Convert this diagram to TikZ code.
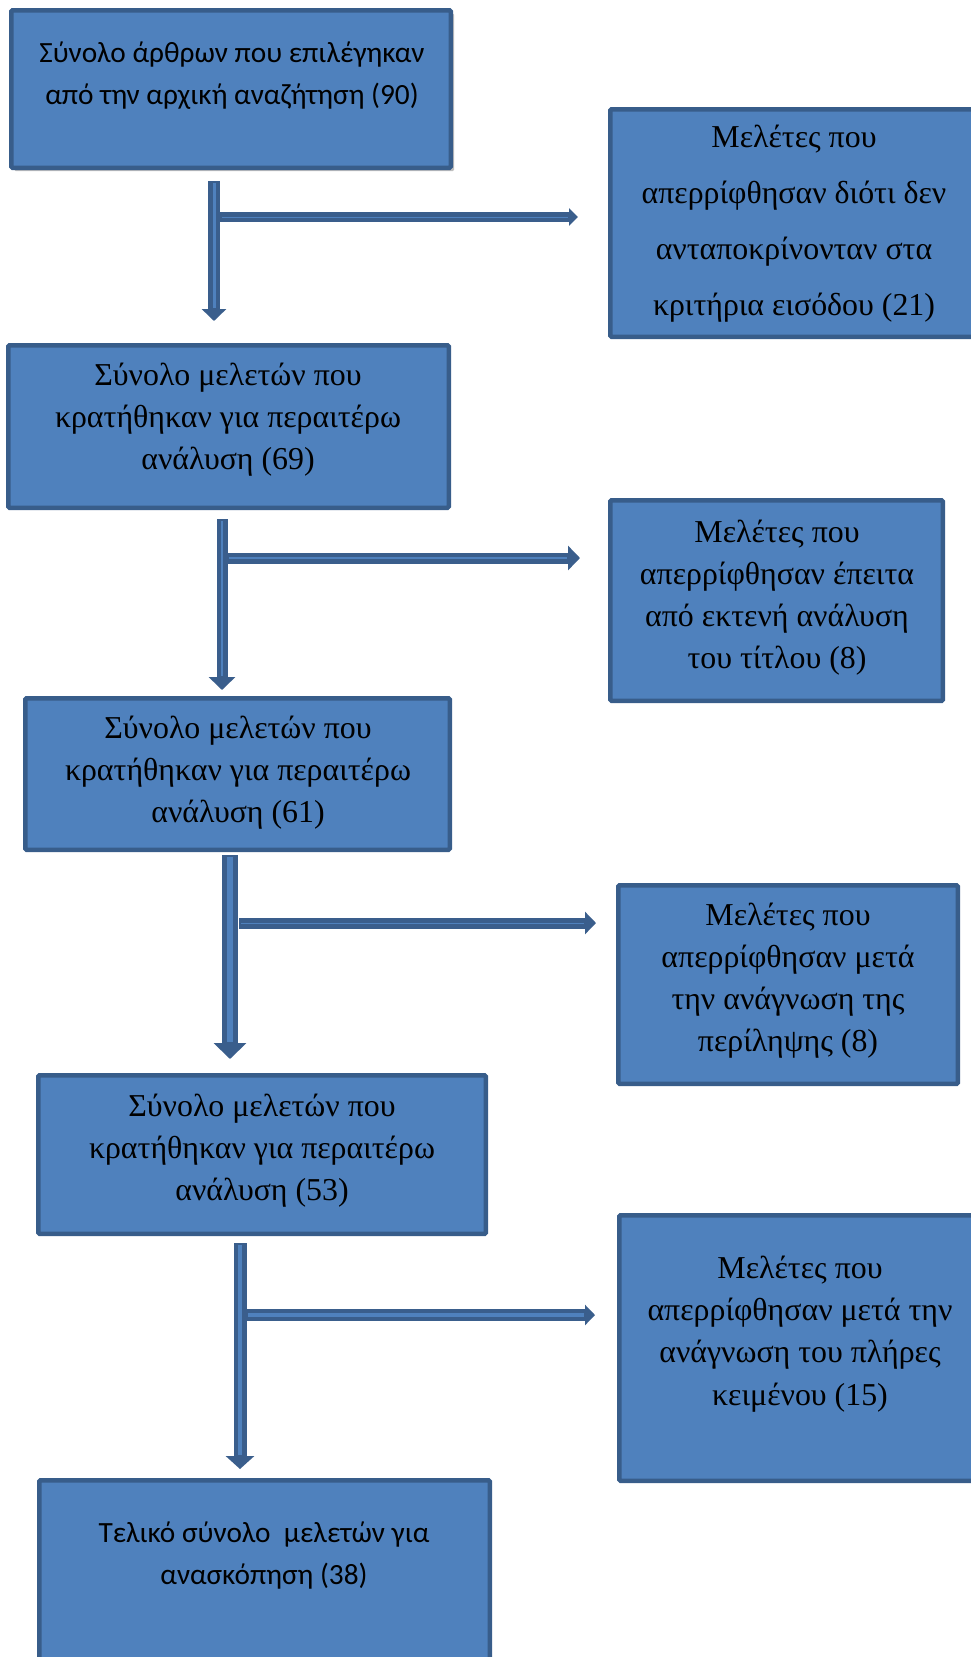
\documentclass[tikz,border=0pt]{standalone}
\usepackage{fontspec}
\setmainfont{Liberation Serif}
\newfontfamily\calib{Carlito}
\usetikzlibrary{arrows.meta,shadows}
\newlength{\pxu}\setlength{\pxu}{0.75pt}
\definecolor{bfill}{HTML}{4F81BD}
\definecolor{bline}{HTML}{385D8A}
\definecolor{adark}{HTML}{3A5E8C}
\definecolor{alight}{HTML}{4F81BD}
% #1 from, #2 to, #3 shaft, #4 head width, #5 head length, #6 inner stripe, #7 shorten start, #8 shorten end
\newcommand{\barrow}[8]{%
  \pgfmathsetlengthmacro\arrw{#4*0.75pt}%
  \pgfmathsetlengthmacro\arrl{#5*0.75pt}%
  \draw[adark, line width=#3\pxu, -{Triangle[width=\arrw,length=\arrl]},
        shorten <={#7*0.75pt}, shorten >={#8*0.75pt}] (#1) -- (#2);
  \draw[alight, line width=#6\pxu,
        shorten <={(#7+1.5)*0.75pt}, shorten >={(#8+#5+1)*0.75pt}] (#1) -- (#2);}
\begin{document}
\begin{tikzpicture}[x=0.75pt,y=-0.75pt,
  box/.style={draw=bline, fill=bfill, line width=4.5\pxu, rounded corners=1.2\pxu, inner sep=0pt},
  serif/.style={align=center, font=\fontsize{23.9}{31.5}\selectfont, inner sep=0pt},
  sans/.style={align=center, font=\calib\fontsize{22}{31.5}\selectfont, inner sep=0pt}]
\useasboundingbox (0,0) rectangle (971,1657);
\clip (0,0) rectangle (971,1657);
\fill[white] (0,0) rectangle (971,1657);

% boxes
\node[box, minimum width=439.5\pxu, minimum height=157.5\pxu,
      drop shadow={shadow xshift=2.5pt, shadow yshift=-2.5pt, fill=black, opacity=0.25}] (b1) at (231,89) {};
\node[box, minimum width=367.5\pxu, minimum height=227.5\pxu] (b2) at (794,223) {};
\node[box, minimum width=440.5\pxu, minimum height=162.5\pxu] (b3) at (228.5,426.5) {};
\node[box, minimum width=332.5\pxu, minimum height=200.5\pxu] (b4) at (776.5,600.5) {};
\node[box, minimum width=424.5\pxu, minimum height=151.5\pxu] (b5) at (237.5,774) {};
\node[box, minimum width=339.5\pxu, minimum height=198.5\pxu] (b6) at (788,984.5) {};
\node[box, minimum width=447.5\pxu, minimum height=158.5\pxu] (b7) at (262,1154.5) {};
\node[box, minimum width=361.5\pxu, minimum height=265.5\pxu] (b8) at (800,1348) {};
\node[box, minimum width=450.5\pxu, minimum height=217.5\pxu] (b9) at (264.5,1589) {};

% texts
\node[sans] (t1) at (232,76) {Σύνολο άρθρων που επιλέγηκαν\\από την αρχική αναζήτηση (90)};
\node[serif, font=\fontsize{23.9}{42}\selectfont] (t2) at (794,224) {Μελέτες που\\απερρίφθησαν διότι δεν\\ανταποκρίνονταν στα\\κριτήρια εισόδου (21)};
\node[serif] (t3) at (228,420) {Σύνολο μελετών που\\κρατήθηκαν για περαιτέρω\\ανάλυση (69)};
\node[serif] (t4) at (777,598) {Μελέτες που\\απερρίφθησαν έπειτα\\από εκτενή ανάλυση\\του τίτλου (8)};
\node[serif] (t5) at (238,773) {Σύνολο μελετών που\\κρατήθηκαν για περαιτέρω\\ανάλυση (61)};
\node[serif] (t6) at (788,981) {Μελέτες που\\απερρίφθησαν μετά\\την ανάγνωση της\\περίληψης (8)};
\node[serif] (t7) at (262,1151) {Σύνολο μελετών που\\κρατήθηκαν για περαιτέρω\\ανάλυση (53)};
\node[serif, font=\fontsize{23.9}{31.7}\selectfont] (t8) at (800,1334) {Μελέτες που\\απερρίφθησαν μετά την\\ανάγνωση του πλήρες\\κειμένου (15)};
\node[sans] (t9) at (264,1556) {Τελικό σύνολο\ \ μελετών για\\ανασκόπηση (38)};

% connector columns
\coordinate (x1) at (214,0);
\coordinate (x2) at (222,0);
\coordinate (x3) at (230,0);
\coordinate (x4) at (240,0);
\coordinate (h1) at (220,217);
\coordinate (h2) at (227.5,558);
\coordinate (h3) at (239,923);
\coordinate (h4) at (246.5,1315);

% horizontal arrows
\barrow{h1}{h1 -| b2.west}{10}{17}{9}{0.8}{0}{30}
\barrow{h2}{h2 -| b4.west}{11}{24}{12}{1.5}{0}{28}
\barrow{h3}{h3 -| b6.west}{11}{22}{11}{0.8}{0}{20}
\barrow{h4}{h4 -| b8.west}{12}{20}{10}{4}{0}{22}

% vertical arrows
\barrow{b1.south -| x1}{b3.north -| x1}{12}{24}{12}{3}{11}{22}
\barrow{b3.south -| x2}{b5.north -| x2}{11}{26}{13}{2.5}{9}{6}
\barrow{b5.south -| x3}{b7.north -| x3}{16}{32}{16}{6}{3}{14}
\barrow{b7.south -| x4}{b9.north -| x4}{13}{28}{13}{4}{7}{9}
\end{tikzpicture}
\end{document}
